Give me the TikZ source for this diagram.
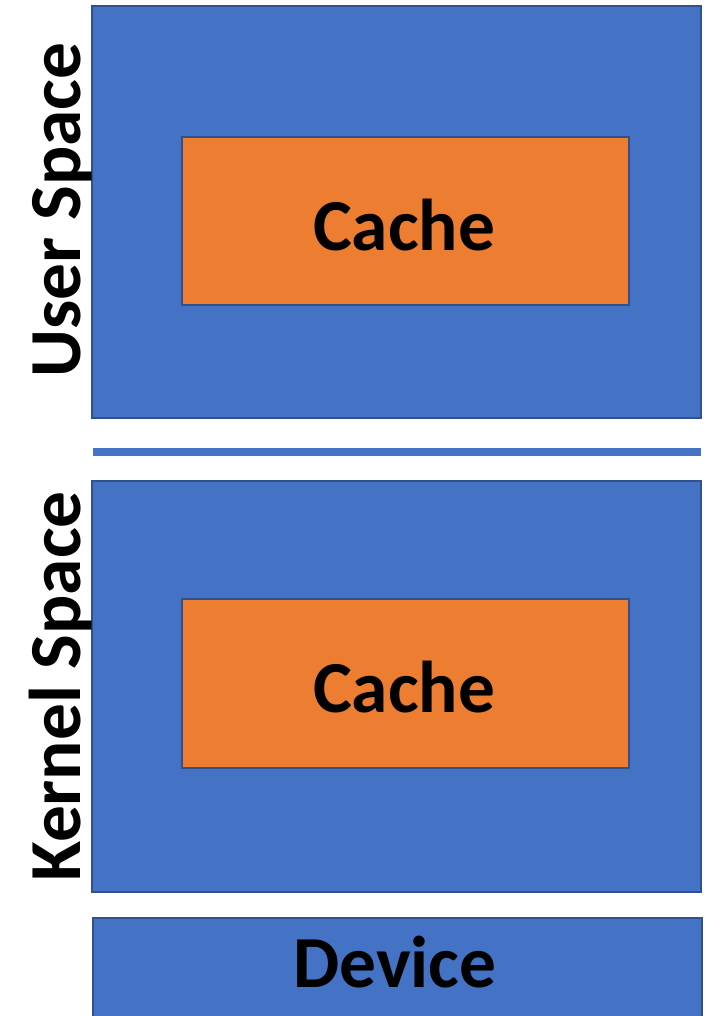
\documentclass[tikz,border=0pt]{standalone}
\usepackage{fontspec}
\setmainfont{Carlito}
\definecolor{boxblue}{HTML}{4472C4}
\definecolor{boxorange}{HTML}{ED7D31}
\definecolor{edgeblue}{HTML}{2F528F}
\tikzset{
  bluebox/.style={draw=edgeblue, fill=boxblue, line width=1.5pt, inner sep=0pt, anchor=north west},
  cachebox/.style={draw=edgeblue, fill=boxorange, line width=1.5pt, inner sep=0pt, anchor=north west},
  bigtext/.style={font=\fontsize{55}{60}\selectfont\bfseries, inner sep=0pt, anchor=base},
}
\begin{document}
\begin{tikzpicture}[x=0.75pt,y=-0.75pt]
\useasboundingbox (0,0) rectangle (704,1016);
\begin{scope}
\clip (0,0) rectangle (704,1016);
\node[bluebox, minimum width=609*0.75pt, minimum height=412*0.75pt] (user) at (91,5) {};
\node[cachebox, minimum width=447*0.75pt, minimum height=168*0.75pt] (cache1) at (181,136) {};
\node[bluebox, minimum width=609*0.75pt, minimum height=411*0.75pt] (kernel) at (91,480) {};
\node[cachebox, minimum width=447*0.75pt, minimum height=169*0.75pt] (cache2) at (181,598) {};
\node[bluebox, minimum width=609*0.75pt, minimum height=130*0.75pt] (device) at (92,917) {};
\fill[boxblue] (93,448) rectangle (701,456);
\coordinate (sepL) at (93,452);
\end{scope}
\node[bigtext] (cachet1) at (404,250) {Cache};
\node[bigtext] (cachet2) at (404,712) {Cache};
\node[bigtext] (devicet) at (395,987) {Device};
\node[bigtext, rotate=90] (usert) at (80,210) {User Space};
\node[bigtext, rotate=90] (kernelt) at (80,686.5) {Kernel Space};
\end{tikzpicture}
\end{document}
